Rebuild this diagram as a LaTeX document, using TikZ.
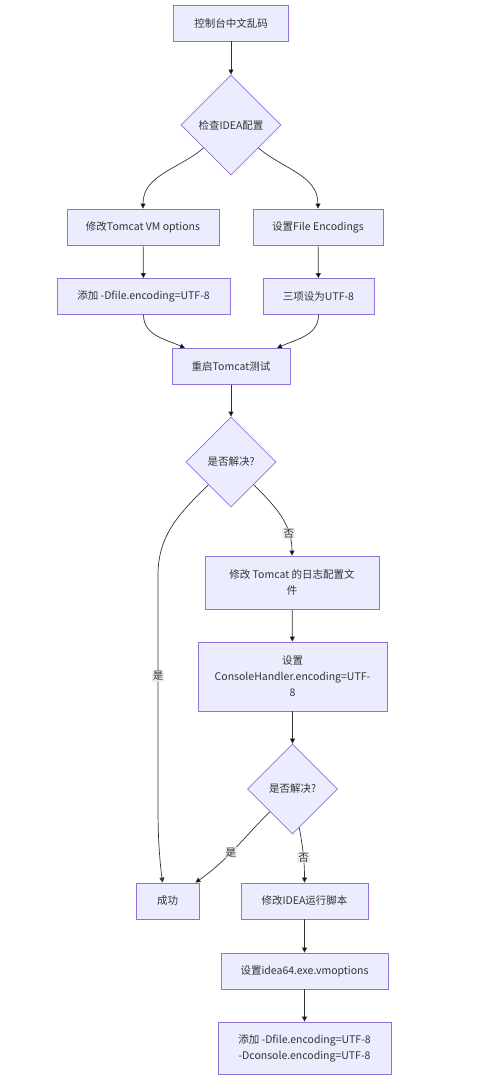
\documentclass[tikz,border=0pt]{standalone}
\usepackage{fontspec}
\setmainfont{Noto Sans CJK SC}
\usetikzlibrary{shapes.geometric,arrows.meta}
\definecolor{nodefill}{HTML}{ECECFF}
\definecolor{nodeline}{HTML}{9370DB}
\definecolor{edgeline}{HTML}{333333}
\definecolor{labelfill}{HTML}{E8E8E8}
\begin{document}
\begin{tikzpicture}[x=1pt,y=-1pt,
  font=\fontsize{10.5}{16}\selectfont,
  box/.style={shape=rectangle,draw=nodeline,fill=nodefill,line width=0.8pt,
    minimum height=36,inner xsep=4pt,align=center,text=edgeline},
  decision/.style={shape=diamond,draw=nodeline,fill=nodefill,line width=0.8pt,
    aspect=1,inner sep=0pt,align=center,text=edgeline},
  flow/.style={draw=edgeline,line width=0.7pt,-{Triangle[length=5pt,width=5pt]}},
  lbl/.style={fill=labelfill,fill opacity=0.8,text opacity=1,inner sep=1.2pt,text=edgeline}]
\useasboundingbox (0,0) rectangle (501,1080);
\node(start) at (231,23)[box,minimum width=115]        {控制台中文乱码};
\node(check) at (231,125)[decision,minimum size=100]   {检查IDEA配置};
\node(vm) at (143,227)[box,minimum width=152]          {修改Tomcat VM options};
\node(fe) at (318,227)[box,minimum width=130]          {设置File Encodings};
\node(dfile) at (143.5,296.5)[box,minimum width=173]   {添加 -Dfile.encoding=UTF-8};
\node(three) at (318.5,296.5)[box,minimum width=111]   {三项设为UTF-8};
\node(restart) at (231,366.5)[box,minimum width=118]   {重启Tomcat测试};
\node(solved1) at (231,462)[decision,minimum size=90]  {是否解决?};
\node(logcfg) at (292,582.5)[box,minimum width=174,minimum height=53]
  {修改 Tomcat 的日志配置文\\件};
\node(console) at (292.5,676.5)[box,minimum width=189,minimum height=69]
  {设置\\ConsoleHandler.encoding=UTF-\\8};
\node(solved2) at (292.5,789)[decision,minimum size=90] {是否解决?};
\node(success) at (167.5,901)[box,minimum width=63]     {成功};
\node(script) at (304.5,901)[box,minimum width=127]     {修改IDEA运行脚本};
\node(vmopt) at (304.5,971)[box,minimum width=167]      {设置idea64.exe.vmoptions};
\node(addopt) at (304.5,1048)[box,minimum width=173,minimum height=52]
  {添加 -Dfile.encoding=UTF-8\\-Dconsole.encoding=UTF-8};

\path [flow]
  (start)    edge                     (check)
  (check)    edge [out=-140,in=90]    (vm)
  (check)    edge [out=-40,in=90]     (fe)
  (vm)       edge                     (dfile)
  (fe)       edge                     (three)
  (dfile)    edge [out=-90,in=155]    ([xshift=-46]restart.north)
  (three)    edge [out=-90,in=25]     ([xshift=46]restart.north)
  (restart)  edge                     (solved1)
  (solved1)  edge [out=-45,in=90]     node [lbl,pos=0.74] {否} (logcfg)
  (logcfg)   edge                     (console)
  (console)  edge                     (solved2)
  (solved2)  edge [out=-135,in=35]    node [lbl,pos=0.55] {是} ([xshift=-4]success.north east)
  (solved2)  edge [out=-80,in=90]     node [lbl,pos=0.55] {否} (script)
  (script)   edge                     (vmopt)
  (vmopt)    edge                     (addopt);

\draw [flow] (solved1) to[out=-135,in=90] (158,575)
  -- node [lbl] {是} (158,777) to[out=-90,in=97] ([xshift=-5]success.north);
\end{tikzpicture}
\end{document}
